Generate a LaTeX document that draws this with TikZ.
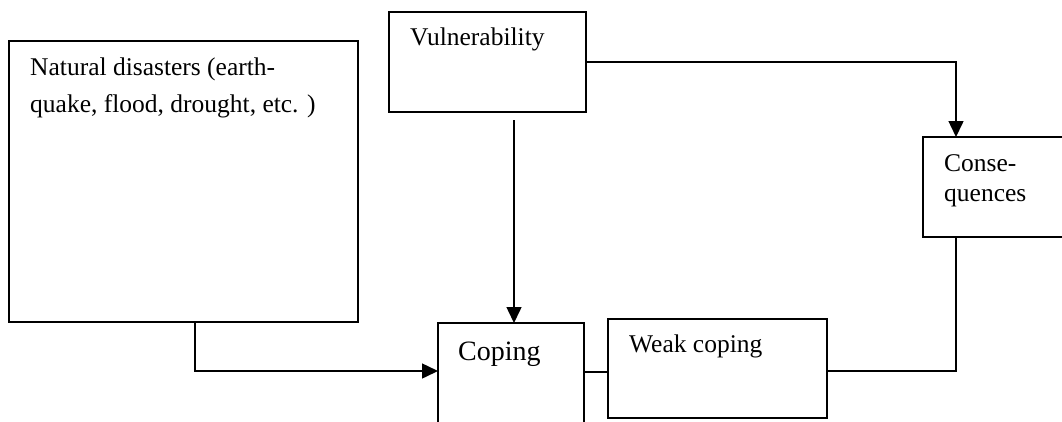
\documentclass[tikz,border=0pt]{standalone}
\usepackage{fontspec}
\setmainfont{Liberation Serif}
\usetikzlibrary{arrows.meta}
\begin{document}
\begin{tikzpicture}[x=1pt,y=-1pt,
  box/.style={draw,line width=1.5pt,inner sep=0pt},
  frame/.style={pos=0,anchor=north west,inner sep=0pt,outer sep=0pt},
  lbl/.style={inner sep=0pt,anchor=base west,align=left,font=\fontsize{25.5}{37}\selectfont},
  conn/.style={line width=1.5pt},
  arr/.style={line width=1.5pt,-{Triangle[length=16pt,width=15pt]}}]
\useasboundingbox (0,0) rectangle (1062,421);
\clip (0,0) rectangle (1062,421);
% boxes
\draw[box] (9,41) rectangle (358,322) node[frame,minimum width=349pt,minimum height=281pt] (nd) {};
\draw[box] (389,12) rectangle (586,112) node[frame,minimum width=197pt,minimum height=100pt] (vul) {};
\draw[box] (923,137) rectangle (1075,237) node[frame,minimum width=152pt,minimum height=100pt] (cons) {};
\draw[box] (438,323) rectangle (584,450) node[frame,minimum width=146pt,minimum height=127pt] (cop) {};
\draw[box] (608,319) rectangle (827,418) node[frame,minimum width=219pt,minimum height=99pt] (weak) {};
% texts (base anchor = baseline of last line)
\node[lbl] (tnd) at (30,112) {Natural disasters (earth-\\quake, flood, drought, etc. )};
\node[lbl] (tvul) at (410,45) {Vulnerability};
\node[lbl,font=\fontsize{25.5}{29.5}\selectfont] (tcons) at (944,201) {Conse-\\quences};
\node[lbl,font=\fontsize{28}{32}\selectfont] (tcop) at (458,360) {Coping};
\node[lbl] (tweak) at (629,352) {Weak coping};
% connectors
\coordinate (ndout) at (195,322);
\coordinate (vdown) at (514,120);
\draw[arr] (ndout) |- (cop.west |- 0,371);
\draw[arr] (vdown) -- (vdown |- cop.north);
\draw[arr] (vul.east) -| (cons.north -| 956,0);
\draw[conn] (cop.east |- 0,372) -- (weak.west |- 0,372);
\draw[conn] (weak.east |- 0,371) -| (cons.south -| 956,0);
\end{tikzpicture}
\end{document}
